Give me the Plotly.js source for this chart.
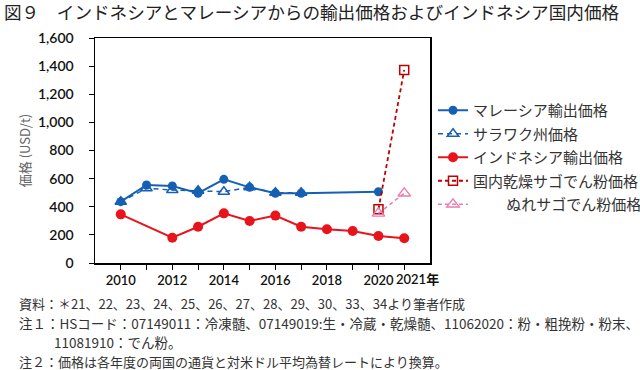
<!DOCTYPE html>
<html><head><meta charset="utf-8">
<script src="https://cdn.plot.ly/plotly-3.0.1.min.js"></script>
<style>html,body{margin:0;padding:0;background:#fff;}#chart{width:640px;height:370px;}</style>
</head><body><div id="chart"></div>
<script>
// ---- data ----
const malaysiaYears = [2010, 2011, 2012, 2013, 2014, 2015, 2016, 2017, 2020];
const malaysiaPrice = [436, 555, 548, 496, 595, 538, 496, 496, 507];
const sarawakYears = [2010, 2011, 2012, 2013, 2014, 2015, 2016, 2017];
const sarawakPrice = [436, 531, 519, 514, 507, 538, 500, 500];
const indonesiaYears = [2010, 2012, 2013, 2014, 2015, 2016, 2017, 2018, 2019, 2020, 2021];
const indonesiaPrice = [346, 180, 258, 353, 299, 337, 258, 240, 228, 192, 176];
const drySagoYears = [2020, 2021];
const drySagoPrice = [382, 1373];
const wetSagoYears = [2020, 2021];
const wetSagoPrice = [353, 496];
const seriesNames = ['マレーシア輸出価格', 'サラワク州価格', 'インドネシア輸出価格', '国内乾燥サゴでん粉価格', 'ぬれサゴでん粉価格'];
const xTickVals = [2010, 2011, 2012, 2013, 2014, 2015, 2016, 2017, 2018, 2019, 2020, 2021];
const xTickText = ['2010', '', '2012', '', '2014', '', '2016', '', '2018', '', '2020', '2021年'];
const yTickVals = [0, 200, 400, 600, 800, 1000, 1200, 1400, 1600];

// style-only: years where the Sarawak triangle is drawn solid
const sarawakSolidYears = [2010, 2013, 2015, 2016, 2017];

const BLUE = '#1660b4', RED = '#e8141c', DARKRED = '#c00000', PINK = '#ea7cb0';
const jp = '"Noto Sans CJK JP", "Noto Sans", sans-serif';

const solidIdx = sarawakYears.map((y, i) => sarawakSolidYears.includes(y) ? i : -1).filter(i => i >= 0);

// the last label ("2021年") sits right of its tick in the reference, so it is drawn as an annotation
const lastIdx = xTickText.length - 1;
const axisTickText = xTickText.map((t, i) => i === lastIdx ? '' : t);

const traces = [
  {x: malaysiaYears, y: malaysiaPrice, name: seriesNames[0], legendgroup: 'g1', type: 'scatter', mode: 'lines+markers',
   line: {color: BLUE, width: 2}, marker: {symbol: 'circle', size: 9, color: BLUE}},
  {x: sarawakYears, y: sarawakPrice, name: seriesNames[1], legendgroup: 'g2', type: 'scatter', mode: 'lines+markers',
   line: {color: BLUE, width: 1.5, dash: '5px,4px'},
   marker: {symbol: 'triangle-up-open', size: 10, color: BLUE, line: {width: 1.5, color: BLUE}}},
  {x: solidIdx.map(i => sarawakYears[i]), y: solidIdx.map(i => sarawakPrice[i]), name: seriesNames[1], legendgroup: 'g2',
   type: 'scatter', mode: 'markers', showlegend: false, hoverinfo: 'skip',
   marker: {symbol: 'triangle-up', size: 10, color: BLUE}},
  {x: indonesiaYears, y: indonesiaPrice, name: seriesNames[2], legendgroup: 'g3', type: 'scatter', mode: 'lines+markers',
   line: {color: RED, width: 2}, marker: {symbol: 'circle', size: 10, color: RED}},
  {x: drySagoYears, y: drySagoPrice, name: seriesNames[3], legendgroup: 'g4', type: 'scatter', mode: 'lines+markers',
   line: {color: DARKRED, width: 1.8, dash: '4px,3px'},
   marker: {symbol: 'square-open', size: 9, color: DARKRED, line: {width: 1.5, color: DARKRED}}},
  {x: wetSagoYears, y: wetSagoPrice, name: '\u3000\u3000\u00a0' + seriesNames[4], legendgroup: 'g5', type: 'scatter', mode: 'lines+markers',
   line: {color: PINK, width: 1.5, dash: '4px,3px'},
   marker: {symbol: 'triangle-up-open', size: 11, color: PINK, line: {width: 1.3, color: PINK}}}
];

const noteFont = {family: jp, size: 13, color: '#333'};
const noteFontWide = {family: jp, size: 13.5, color: '#333'};
const tickFamily = 'Lato, "Open Sans", "Noto Sans CJK JP", sans-serif';
const xTickFont = {family: tickFamily, size: 13, color: '#111', weight: 600};
const layout = {
  width: 640, height: 370,
  margin: {l: 95, r: 210, t: 38, b: 107},
  paper_bgcolor: '#fff', plot_bgcolor: '#fff',
  showlegend: true,
  title: {text: '図９\u3000インドネシアとマレーシアからの輸出価格およびインドネシア国内価格',
          x: 4 / 640, xanchor: 'left', xref: 'container', y: 1 - 13 / 370, yanchor: 'middle', yref: 'container',
          font: {family: jp, size: 17.6, color: '#222'}},
  xaxis: {range: [2009, 2022], tickmode: 'array', tickvals: xTickVals, ticktext: axisTickText, tickangle: 0,
          ticks: 'outside', ticklen: 5, tickwidth: 1, tickcolor: '#000',
          showline: true, linecolor: '#000', linewidth: 1.5, mirror: true,
          showgrid: false, zeroline: false, automargin: false, tickfont: xTickFont},
  yaxis: {range: [0, 1600], tickmode: 'array', tickvals: yTickVals, tickformat: ',',
          ticks: 'outside', ticklen: 5, tickwidth: 1, tickcolor: '#000',
          showline: true, linecolor: '#000', linewidth: 1.5, mirror: true,
          showgrid: false, zeroline: false, ticklabelstandoff: 12, automargin: false,
          tickfont: {family: tickFamily, size: 14, color: '#111', weight: 600},
          title: {text: '価格 (USD/t)', standoff: 4, font: {family: jp, size: 13, color: '#666'}}},
  legend: {xref: 'container', yref: 'container', x: 433 / 640, xanchor: 'left', y: 1 - 94 / 370, yanchor: 'top',
           traceorder: 'grouped', tracegroupgap: 1,
           itemwidth: 30, font: {family: jp, size: 15, color: '#333'}, bgcolor: 'rgba(0,0,0,0)'},
  annotations: [
    {text: xTickText[lastIdx], xref: 'x', yref: 'paper', x: xTickVals[lastIdx], y: 0, xanchor: 'center', yanchor: 'top',
     xshift: 13, yshift: -6, showarrow: false, font: xTickFont},
    {text: '資料：＊21、22、23、24、25、26、27、28、29、30、33、34より筆者作成', xref: 'paper', yref: 'paper',
     x: -78 / 335, y: -(303 - 263) / 225, xanchor: 'left', yanchor: 'middle', showarrow: false, font: noteFont},
    {text: '注１：HSコード：07149011：冷凍髄、07149019:生・冷蔵・乾燥髄、11062020：粉・粗挽粉・粉末、', xref: 'paper', yref: 'paper',
     x: -78 / 335, y: -(323 - 263) / 225, xanchor: 'left', yanchor: 'middle', showarrow: false, font: noteFontWide},
    {text: '11081910：でん粉。', xref: 'paper', yref: 'paper',
     x: -43 / 335, y: -(342 - 263) / 225, xanchor: 'left', yanchor: 'middle', showarrow: false, font: noteFontWide},
    {text: '注２：価格は各年度の両国の通貨と対米ドル平均為替レートにより換算。', xref: 'paper', yref: 'paper',
     x: -78 / 335, y: -(361 - 263) / 225, xanchor: 'left', yanchor: 'middle', showarrow: false, font: noteFont}
  ]
};
Plotly.newPlot('chart', traces, layout, {staticPlot: true, displayModeBar: false});
</script></body></html>
